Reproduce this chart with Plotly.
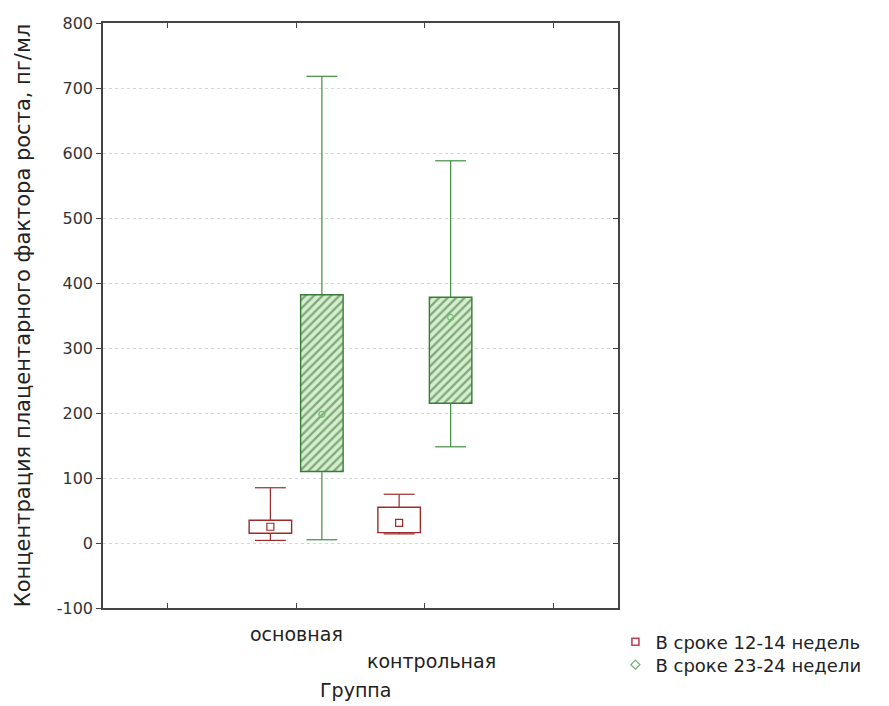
import plotly.graph_objects as go

# ---- data ----
groups = ["основная", "контрольная"]
group_pos = [1.5, 2.5]
series_names = ["В сроке 12-14 недель", "В сроке 23-24 недели"]
offsets = [-0.2, 0.2]

# red series (12-14 weeks)
s1_min = [4, 14]
s1_q1 = [15, 16]
s1_med = [25, 31]
s1_q3 = [35, 55]
s1_max = [85, 75]

# green series (23-24 weeks)
s2_min = [5, 148]
s2_q1 = [110, 215]
s2_med = [198, 347]
s2_q3 = [382, 378]
s2_max = [718, 588]

y_ticks = [-100, 0, 100, 200, 300, 400, 500, 600, 700, 800]
y_tick_labels = ["-100", "0", "100", "200", "300", "400", "500", "600", "700", "800"]

RED = "#9c2b2b"
GREEN = "#3f8f3f"
FONT = "DejaVu Sans"

box_w = 0.33
cap_w = 0.24

fig = go.Figure()

series = [
    (s1_min, s1_q1, s1_med, s1_q3, s1_max, RED, RED, "square-open", 7, None),
    (s2_min, s2_q1, s2_med, s2_q3, s2_max, GREEN, "#3a7a3a", "circle-open", 6,
     dict(shape="/", fgcolor="#2f5f2f", bgcolor="#d4efcc", size=6, solidity=0.38)),
]

for si, (mn, q1, md, q3, mx, col, boxcol, sym, msz, patt) in enumerate(series):
    xs = [p + offsets[si] for p in group_pos]
    marker = dict(color="white" if patt is None else "#d4efcc",
                  line=dict(color=boxcol, width=1.4))
    if patt is not None:
        marker["pattern"] = patt
    fig.add_trace(go.Bar(
        x=xs, y=[b - a for a, b in zip(q1, q3)], base=q1, width=box_w,
        marker=marker, showlegend=False, hoverinfo="skip"))
    # whiskers
    lx, ly = [], []
    for x, a, b, c, d in zip(xs, mn, q1, q3, mx):
        lx += [x, x, None, x, x, None,
               x - cap_w / 2, x + cap_w / 2, None, x - cap_w / 2, x + cap_w / 2, None]
        ly += [c, d, None, a, b, None, d, d, None, a, a, None]
    fig.add_trace(go.Scatter(x=lx, y=ly, mode="lines",
                             line=dict(color=col, width=1.2),
                             showlegend=False, hoverinfo="skip"))
    # median marker
    fig.add_trace(go.Scatter(x=xs, y=md, mode="markers",
                             marker=dict(symbol=sym, size=msz,
                                         color=col if patt is None else "#6fbf6f",
                                         line=dict(width=1.2)),
                             showlegend=False, hoverinfo="skip"))

# legend entries (one legend box per entry for exact row spacing)
fig.add_trace(go.Scatter(x=[None], y=[None], mode="markers", name=series_names[0],
                         legend="legend",
                         marker=dict(symbol="square-open", size=7, color="#c0405a",
                                     line=dict(width=1.6))))
fig.add_trace(go.Scatter(x=[None], y=[None], mode="markers", name=series_names[1],
                         legend="legend2",
                         marker=dict(symbol="diamond-open", size=7, color="#6fb06f",
                                     line=dict(width=1.2))))

# y axis on the right (inside ticks only)
fig.add_trace(go.Scatter(x=[None], y=[None], yaxis="y2", showlegend=False))

annotations = []
label_y = [-0.045, -0.09]
label_shift = [0, 7]
for g, p, ly, sh in zip(groups, group_pos, label_y, label_shift):
    annotations.append(dict(x=p, y=ly, xref="x", yref="paper", text=g, xshift=sh,
                            showarrow=False, xanchor="center", yanchor="middle",
                            font=dict(family=FONT, size=19, color="#222")))
annotations.append(dict(x=0.49, y=-0.14, xref="paper", yref="paper", text="Группа",
                        showarrow=False, xanchor="center", yanchor="middle",
                        font=dict(family=FONT, size=19, color="#222")))

leg_common = dict(x=0.995, xanchor="left", yanchor="middle",
                  font=dict(family=FONT, size=18, color="#222"),
                  bgcolor="rgba(0,0,0,0)", itemwidth=30, borderwidth=0)

fig.update_layout(
    width=889, height=706,
    margin=dict(l=103, r=271, t=23, b=98),
    paper_bgcolor="white", plot_bgcolor="white",
    barmode="overlay",
    font=dict(family=FONT, color="#222"),
    xaxis=dict(range=[0, 4], tickvals=[0.5, 1.5, 2.5, 3.5], ticktext=["", "", "", ""],
               ticks="inside", ticklen=5, tickcolor="#444",
               showline=True, linecolor="#444", linewidth=1.5, mirror="ticks",
               showgrid=False, zeroline=False, fixedrange=True, automargin=False),
    yaxis=dict(range=[-100, 800], tickvals=y_ticks, ticktext=y_tick_labels,
               ticks="outside", ticklen=5,
               tickcolor="#444", showline=True, linecolor="#444", linewidth=1.5,
               mirror=True, showgrid=True, gridcolor="#d6d6d6", griddash="dot",
               gridwidth=1, zeroline=False, automargin=False,
               tickfont=dict(family=FONT, size=16, color="#333"),
               title=dict(text="Концентрация плацентарного фактора роста, пг/мл",
                          font=dict(family=FONT, size=21, color="#222"), standoff=20)),
    yaxis2=dict(range=[-100, 800], tickvals=y_ticks, ticks="inside", ticklen=5,
                tickcolor="#444", overlaying="y", side="right", showticklabels=False,
                showgrid=False, zeroline=False, showline=False, automargin=False),
    legend=dict(y=(608 - 642) / 585, **leg_common),
    legend2=dict(y=(608 - 665) / 585, **leg_common),
    annotations=annotations,
)

fig.write_html("out.html", config={"displayModeBar": False},
               post_script="document.body.style.margin='0';")
